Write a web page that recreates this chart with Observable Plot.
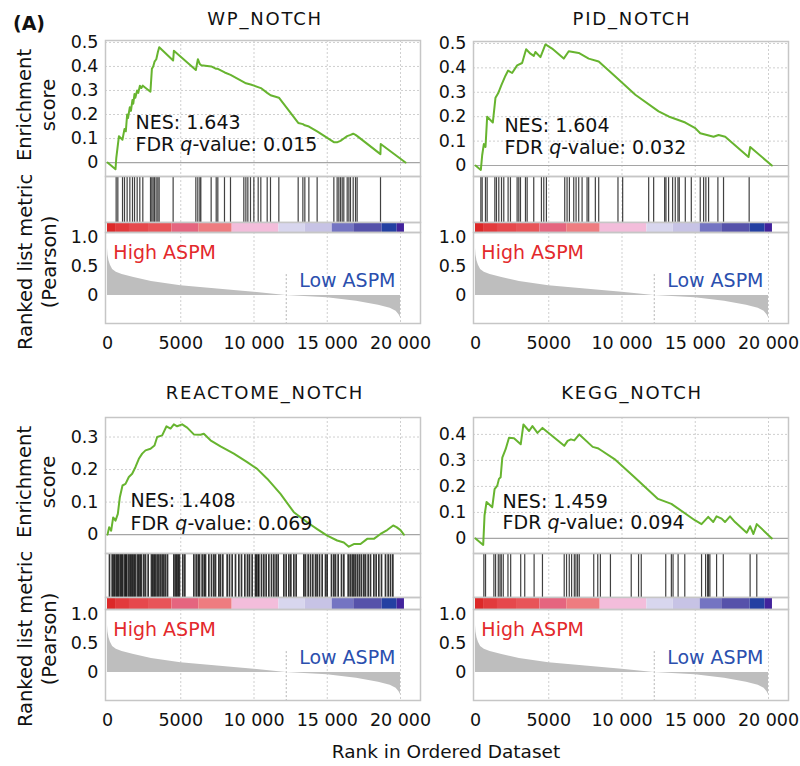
<!DOCTYPE html>
<html><head><meta charset="utf-8">
<script src="https://cdn.jsdelivr.net/npm/d3@7"></script>
<script src="https://cdn.jsdelivr.net/npm/@observablehq/plot@0.6"></script>
<style>
html,body{margin:0;padding:0;background:#fff;}
#root{position:relative;width:800px;height:766px;overflow:hidden;font-family:"DejaVu Sans",sans-serif;color:#111;}
#root svg{position:absolute;overflow:visible;max-width:none !important;}
.lbl{position:absolute;white-space:nowrap;line-height:1;transform:translate(-50%,-50%);}
.rot{transform:translate(-50%,-50%) rotate(-90deg);}
</style></head><body><div id="root"></div>
<script>
// ---------------- DATA ----------------
const titles = ["WP_NOTCH", "PID_NOTCH", "REACTOME_NOTCH", "KEGG_NOTCH"];
const nesValues = ["1.643", "1.604", "1.408", "1.459"];
const fdrValues = ["0.015", "0.032", "0.069", "0.094"];

const wpRank  = [0, 546, 600, 780, 1020, 1160, 1250, 1340, 1400, 1520, 1600, 1700, 1760, 1840, 1900, 2020, 2100, 2210, 2300, 2410, 2930, 3030, 3120, 3210, 3330, 3440, 3530, 4480, 4530, 6030, 6170, 6300, 6400, 7080, 7420, 7530, 8000, 8400, 9300, 9450, 9770, 10000, 10470, 10900, 11130, 11700, 13020, 13340, 13470, 13750, 14310, 15450, 15700, 15900, 16130, 16360, 16590, 16770, 16930, 17050, 18630, 18650, 20340];
const wpScore = [0, -0.028, 0.02, 0.11, 0.095, 0.14, 0.13, 0.2, 0.185, 0.23, 0.215, 0.26, 0.245, 0.285, 0.27, 0.30, 0.29, 0.32, 0.31, 0.32, 0.295, 0.39, 0.40, 0.42, 0.43, 0.46, 0.48, 0.425, 0.465, 0.385, 0.43, 0.41, 0.405, 0.40, 0.39, 0.39, 0.375, 0.365, 0.335, 0.33, 0.325, 0.32, 0.31, 0.29, 0.28, 0.27, 0.165, 0.16, 0.155, 0.15, 0.13, 0.085, 0.085, 0.09, 0.10, 0.11, 0.115, 0.12, 0.115, 0.11, 0.035, 0.077, 0];
const wpHits = [590, 705, 1025, 1160, 1340, 1525, 1705, 1845, 2025, 2205, 2410, 2935, 3025, 3115, 3210, 3320, 3435, 3525, 4480, 6030, 6165, 6305, 6370, 7075, 7420, 7530, 7985, 8395, 9305, 9445, 9580, 9760, 9990, 10285, 10465, 10900, 11125, 11695, 13015, 13335, 13470, 13745, 14310, 15450, 15675, 15790, 15905, 16020, 16130, 16360, 16475, 16585, 16770, 16930, 17040, 18635];

const pidRank  = [0, 364, 455, 568, 682, 795, 1182, 1364, 1545, 1773, 2045, 2227, 2500, 2841, 3182, 3455, 3750, 3977, 4091, 4432, 4773, 5227, 6023, 6364, 7045, 7727, 8409, 9545, 10909, 12500, 13182, 14318, 15000, 15341, 16250, 16591, 17045, 18636, 18750, 20227];
const pidScore = [0, -0.018, 0.042, 0.088, 0.076, 0.20, 0.176, 0.278, 0.296, 0.33, 0.368, 0.389, 0.379, 0.41, 0.42, 0.476, 0.458, 0.449, 0.465, 0.444, 0.496, 0.479, 0.438, 0.468, 0.461, 0.438, 0.426, 0.365, 0.29, 0.222, 0.201, 0.176, 0.153, 0.132, 0.118, 0.125, 0.118, 0.035, 0.076, 0];
const pidHits = [365, 455, 680, 795, 1320, 1430, 1590, 1775, 1930, 2225, 2385, 2840, 2955, 3070, 3410, 3525, 3975, 4500, 4660, 4840, 6090, 6250, 6410, 6705, 6865, 7045, 7275, 7615, 7725, 8180, 8410, 9725, 10045, 11820, 12160, 12910, 13000, 13180, 13455, 13635, 13820, 13910, 14320, 14730, 15340, 15570, 15725, 15910, 16545, 16930, 18680];

const reactRank  = [0, 114, 250, 387, 546, 705, 842, 1024, 1229, 1456, 1684, 1911, 2139, 2366, 2594, 2935, 3208, 3390, 3732, 4027, 4300, 4528, 4755, 5097, 5438, 5893, 6348, 6575, 7030, 7713, 8623, 9534, 10216, 10899, 11809, 12719, 13629, 14312, 14994, 15677, 16132, 16473, 16815, 17270, 17725, 18180, 18635, 19090, 19500, 19727, 20000, 20228];
const reactScore = [0, 0.023, 0.012, 0.053, 0.043, 0.064, 0.115, 0.151, 0.156, 0.177, 0.187, 0.208, 0.233, 0.249, 0.259, 0.264, 0.274, 0.30, 0.305, 0.333, 0.326, 0.339, 0.333, 0.339, 0.329, 0.308, 0.307, 0.31, 0.29, 0.271, 0.249, 0.223, 0.202, 0.172, 0.125, 0.069, 0.038, 0.017, -0.003, -0.018, -0.024, -0.037, -0.029, -0.029, -0.013, -0.013, 0.002, 0.014, 0.028, 0.023, 0.014, 0];
const reactHits = [137, 319, 420, 501, 614, 683, 774, 887, 960, 1047, 1183, 1250, 1320, 1456, 1550, 1638, 1729, 1820, 1911, 2048, 2139, 2230, 2321, 2480, 2594, 2776, 3000, 3094, 3185, 3276, 3390, 3504, 3618, 3732, 3845, 3959, 4096, 4528, 4642, 4733, 4824, 4915, 5142, 5279, 5893, 6052, 6189, 6280, 6462, 6598, 6689, 6917, 7099, 7258, 7372, 7600, 7713, 7873, 8168, 8328, 8510, 8737, 8965, 9147, 9374, 9556, 9693, 9875, 10102, 10171, 10284, 10330, 10512, 10671, 10830, 11013, 11195, 11354, 11513, 11650, 12036, 12196, 12378, 12514, 12719, 12878, 13402, 13515, 13697, 13857, 14016, 14198, 14312, 14471, 14653, 14881, 14994, 15290, 15449, 15563, 15745, 15973, 16132, 16428, 16564, 16701, 16815, 16928, 17065, 17201, 17338, 17497, 17611, 17793, 17952, 18180, 18339, 18521, 18703, 18976, 19158, 19317, 19477];

const keggRank  = [0, 526, 617, 754, 1143, 1303, 1486, 1600, 1714, 1829, 2057, 2286, 2629, 3086, 3269, 3657, 3886, 4229, 4571, 6057, 6286, 6514, 6743, 7086, 8000, 8343, 8571, 9486, 10857, 12457, 13371, 14971, 15429, 15886, 16229, 16457, 16800, 17029, 17371, 17714, 18514, 18743, 18971, 19200, 20229];
const keggScore = [0, -0.025, 0.089, 0.14, 0.12, 0.19, 0.203, 0.229, 0.235, 0.311, 0.343, 0.387, 0.385, 0.362, 0.438, 0.413, 0.432, 0.406, 0.425, 0.356, 0.375, 0.381, 0.377, 0.40, 0.352, 0.347, 0.339, 0.305, 0.235, 0.152, 0.133, 0.07, 0.055, 0.083, 0.063, 0.085, 0.076, 0.063, 0.085, 0.063, 0.022, 0.047, 0.017, 0.055, 0];
const keggHits = [570, 685, 1255, 1370, 1555, 1670, 1760, 1895, 2215, 2400, 3085, 3360, 4000, 4570, 6055, 6215, 6400, 6560, 6745, 6855, 6970, 7085, 8070, 8345, 8525, 9210, 10630, 11130, 11315, 12985, 13370, 13485, 13830, 14285, 15430, 15705, 15840, 15910, 16000, 16455, 16915, 18745, 19200];

// ranked list metric (Pearson), shared by all four panels
const metricRank  = [0, 30, 100, 200, 350, 600, 1000, 1800, 3000, 5000, 7500, 10000, 12200, 15000, 17000, 18500, 19300, 19700, 19900, 20000];
const metricValue = [0.81, 0.70, 0.60, 0.52, 0.45, 0.40, 0.36, 0.31, 0.24, 0.17, 0.11, 0.056, 0, -0.04, -0.10, -0.17, -0.22, -0.27, -0.33, -0.38];
const zeroCross = [12200];

// colour bar (rank segments)
const barStart = [0, 550, 1500, 2800, 4400, 6230, 8510, 11700, 13500, 15340, 16810, 18750, 19770];
const barEnd   = [550, 1500, 2800, 4400, 6230, 8510, 11700, 13500, 15340, 16810, 18750, 19770, 20270];
const barColor = ["#dc2828", "#e23a3c", "#e6484c", "#e85458", "#e5657f", "#ee7c80", "#f3bddb", "#d8d6ee", "#c7c3e5", "#7474c2", "#5652aa", "#2440a2", "#42239c"];

const xTicks = [0, 5000, 10000, 15000, 20000];
const esTicks = [[0, 0.1, 0.2, 0.3, 0.4, 0.5], [0, 0.1, 0.2, 0.3, 0.4, 0.5], [0, 0.1, 0.2, 0.3], [0, 0.1, 0.2, 0.3, 0.4]];
const metricTicks = [0, 0.5, 1.0];
const sideLabels = ["High ASPM", "Low ASPM"];
const yLabelES = ["Enrichment", "score"];
const yLabelRank = ["Ranked list metric", "(Pearson)"];
const xLabel = "Rank in Ordered Dataset";
const panelTag = "(A)";

// ---------------- LAYOUT ----------------
const FW = 315, ML = 72;
const xDomain = [-137, 21365];
const rankDomain = [-0.483, 1.086];
const layouts = [
  {left:105, top:40, esBottom:176, hitsBottom:222, barBottom:232, bottom:323, esDomain:[-0.058, 0.508], nesX:1911, nesY:0.167, fdrY:0.075, cx:265, ty:19},
  {left:473, top:41, esBottom:176, hitsBottom:222, barBottom:232, bottom:323, esDomain:[-0.045, 0.508], nesX:1973, nesY:0.164, fdrY:0.074, cx:632, ty:19},
  {left:105, top:417, esBottom:553, hitsBottom:597, barBottom:609, bottom:700, esDomain:[-0.058, 0.36], nesX:1570, nesY:0.105, fdrY:0.034, cx:265, ty:393},
  {left:473, top:417, esBottom:553, hitsBottom:597, barBottom:609, bottom:700, esDomain:[-0.058, 0.465], nesX:1850, nesY:0.142, fdrY:0.058, cx:632, ty:393}
];

const root = document.getElementById("root");
const baseStyle = {background:"transparent", fontFamily:"DejaVu Sans", fontSize:"17.5px", color:"#111", overflow:"visible"};
const fmtY = d => d === 0 ? "0" : d.toFixed(1);
const fmtX = d => d >= 10000 ? `${Math.floor(d/1000)} ${String(d % 1000).padStart(3, "0")}` : String(d);
const gridStyle = {stroke:"#cfcfcf", strokeDasharray:"2,2"};
const frameStyle = {stroke:"#c6c6c6", strokeWidth:1.5};

function place(svg, left, top) {
  svg.style.position = "absolute";
  svg.style.left = left + "px";
  svg.style.top = top + "px";
  root.appendChild(svg);
}
function label(text, x, y, css) {
  const d = document.createElement("div");
  d.className = "lbl" + (css.rot ? " rot" : "");
  d.textContent = text;
  d.style.left = x + "px"; d.style.top = y + "px";
  Object.assign(d.style, css.style || {});
  root.appendChild(d);
}
function italicQ(svg) {
  svg.querySelectorAll("text").forEach(t => {
    const s = t.textContent;
    if (s.startsWith("FDR q-value")) {
      t.textContent = "";
      t.append("FDR ");
      const ts = document.createElementNS("http://www.w3.org/2000/svg", "tspan");
      ts.setAttribute("font-style", "italic");
      ts.textContent = "q";
      t.append(ts);
      t.append(s.slice(5));
    }
  });
}

const series = [
  {rank: wpRank, score: wpScore, hits: wpHits},
  {rank: pidRank, score: pidScore, hits: pidHits},
  {rank: reactRank, score: reactScore, hits: reactHits},
  {rank: keggRank, score: keggScore, hits: keggHits}
];
const metricRows = metricRank.map((r, i) => ({rank: r, metric: metricValue[i]}));
const barRows = barStart.map((s, i) => ({x1: s, x2: barEnd[i], c: barColor[i]}));

series.forEach((s, k) => {
  const L = layouts[k];
  const rows = s.rank.map((r, i) => ({rank: r, es: s.score[i]}));

  // Enrichment score panel
  const es = Plot.plot({
    width: ML + FW, height: L.esBottom - L.top,
    marginLeft: ML, marginRight: 0, marginTop: 0, marginBottom: 0,
    style: baseStyle,
    x: {domain: xDomain, axis: null},
    y: {domain: L.esDomain, ticks: esTicks[k], tickFormat: fmtY, tickSize: 0, tickPadding: 7, label: null},
    marks: [
      Plot.ruleX(xTicks.slice(1), gridStyle),
      Plot.ruleY(esTicks[k].filter(v => v !== 0), gridStyle),
      Plot.ruleY([0], {stroke:"#a5a5a5", strokeWidth:1.2}),
      Plot.line(rows, {x:"rank", y:"es", stroke:"#67b42f", strokeWidth:2}),
      Plot.text([{x:L.nesX, y:L.nesY, t:"NES: " + nesValues[k]}, {x:L.nesX, y:L.fdrY, t:"FDR q-value: " + fdrValues[k]}],
        {x:"x", y:"y", text:"t", textAnchor:"start", fontSize:19, fill:"#111"}),
      Plot.frame(frameStyle)
    ]
  });
  italicQ(es);
  place(es, L.left - ML, L.top);

  // Hits
  const hits = Plot.plot({
    width: ML + FW, height: L.hitsBottom - L.esBottom,
    marginLeft: ML, marginRight: 0, marginTop: 0, marginBottom: 0,
    style: baseStyle,
    x: {domain: xDomain, axis: null},
    marks: [
      Plot.ruleX(xTicks.slice(1), gridStyle),
      Plot.ruleX(s.hits, {stroke:"#111", strokeOpacity: k === 2 ? 0.85 : 0.8, strokeWidth: k === 2 ? 1.7 : 1.2}),
      Plot.frame(frameStyle)
    ]
  });
  place(hits, L.left - ML, L.esBottom);

  // Colour bar
  const bar = Plot.plot({
    width: ML + FW, height: L.barBottom - L.hitsBottom,
    marginLeft: ML, marginRight: 0, marginTop: 0, marginBottom: 0,
    style: baseStyle,
    x: {domain: xDomain, axis: null},
    color: {type: "identity"},
    marks: [
      Plot.rect(barRows, {x1:"x1", x2:"x2", fill:"c"}),
      Plot.frame(frameStyle)
    ]
  });
  place(bar, L.left - ML, L.hitsBottom);

  // Ranked list metric
  const MB = 36;
  const rk = Plot.plot({
    width: ML + FW, height: L.bottom - L.barBottom + MB,
    marginLeft: ML, marginRight: 0, marginTop: 0, marginBottom: MB,
    style: baseStyle,
    x: {domain: xDomain, ticks: xTicks, tickFormat: fmtX, tickSize: 0, tickPadding: 13, label: null},
    y: {domain: rankDomain, ticks: metricTicks, tickFormat: fmtY, tickSize: 0, tickPadding: 7, label: null},
    marks: [
      Plot.ruleX(xTicks.slice(1), gridStyle),
      Plot.areaY(metricRows, {x:"rank", y:"metric", fill:"#bebebe"}),
      Plot.ruleX(zeroCross, {y1: 0.36, y2: rankDomain[0], stroke:"#b5b5b5", strokeDasharray:"2,2"}),
      Plot.text([{x:400, y:0.74, t:sideLabels[0]}], {x:"x", y:"y", text:"t", textAnchor:"start", fontSize:19, fill:"#e3292c"}),
      Plot.text([{x:19660, y:0.25, t:sideLabels[1]}], {x:"x", y:"y", text:"t", textAnchor:"end", fontSize:19, fill:"#2b4fae"}),
      Plot.frame(frameStyle)
    ]
  });
  place(rk, L.left - ML, L.barBottom);

  // Title
  label(titles[k], L.cx, L.ty, {style:{fontSize:"18px", letterSpacing:"1.8px"}});

  // y labels (left column only)
  if (k % 2 === 0) {
    const esMid = (L.top + L.esBottom) / 2 - 3;
    label(yLabelES[0], 25, esMid, {rot:true, style:{fontSize:"19.5px"}});
    label(yLabelES[1], 49, esMid, {rot:true, style:{fontSize:"19.5px"}});
    const rkMid = L.esBottom + 86;
    label(yLabelRank[0], 26, rkMid, {rot:true, style:{fontSize:"19.5px"}});
    label(yLabelRank[1], 50, rkMid, {rot:true, style:{fontSize:"19.5px"}});
  }
});

label(panelTag, 29, 23, {style:{fontSize:"19px", fontWeight:"bold"}});
label(xLabel, 446, 752, {style:{fontSize:"18.5px"}});
</script></body></html>
